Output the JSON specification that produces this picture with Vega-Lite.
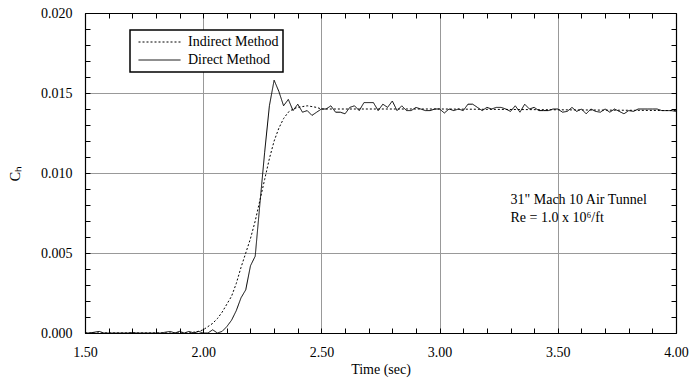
{
  "$schema": "https://vega.github.io/schema/vega-lite/v6.json",
  "width": 591,
  "height": 320,
  "autosize": "none",
  "padding": {"left": 85, "top": 13, "right": 15, "bottom": 48},
  "background": "white",
  "config": {
    "font": "Liberation Serif",
    "view": {"stroke": null},
    "legend": {"strokeWidth": 1.5},
    "axis": {
      "labelFont": "Liberation Serif",
      "labelFontSize": 14,
      "labelColor": "black",
      "titleFont": "Liberation Serif",
      "titleFontSize": 14,
      "titleFontWeight": "normal",
      "titleColor": "black",
      "domainColor": "black",
      "domainWidth": 1.2,
      "tickColor": "black",
      "tickWidth": 1,
      "gridColor": "#999999",
      "gridWidth": 1,
      "labelOverlap": false,
      "labelFlush": false
    }
  },
  "datasets": {
    "curves": [
      {"t": 1.50, "C": 0.0, "method": "Indirect Method"},
      {"t": 1.90, "C": 0.0, "method": "Indirect Method"},
      {"t": 1.94, "C": 0.0, "method": "Indirect Method"},
      {"t": 1.96, "C": 0.00005, "method": "Indirect Method"},
      {"t": 1.98, "C": 0.0001, "method": "Indirect Method"},
      {"t": 2.00, "C": 0.0002, "method": "Indirect Method"},
      {"t": 2.02, "C": 0.0004, "method": "Indirect Method"},
      {"t": 2.04, "C": 0.0006, "method": "Indirect Method"},
      {"t": 2.06, "C": 0.0009, "method": "Indirect Method"},
      {"t": 2.08, "C": 0.0013, "method": "Indirect Method"},
      {"t": 2.10, "C": 0.0018, "method": "Indirect Method"},
      {"t": 2.12, "C": 0.0023, "method": "Indirect Method"},
      {"t": 2.14, "C": 0.0031, "method": "Indirect Method"},
      {"t": 2.16, "C": 0.0041, "method": "Indirect Method"},
      {"t": 2.18, "C": 0.0050, "method": "Indirect Method"},
      {"t": 2.20, "C": 0.0059, "method": "Indirect Method"},
      {"t": 2.22, "C": 0.0070, "method": "Indirect Method"},
      {"t": 2.24, "C": 0.0083, "method": "Indirect Method"},
      {"t": 2.26, "C": 0.0096, "method": "Indirect Method"},
      {"t": 2.28, "C": 0.0109, "method": "Indirect Method"},
      {"t": 2.30, "C": 0.0120, "method": "Indirect Method"},
      {"t": 2.32, "C": 0.0128, "method": "Indirect Method"},
      {"t": 2.34, "C": 0.0134, "method": "Indirect Method"},
      {"t": 2.36, "C": 0.0138, "method": "Indirect Method"},
      {"t": 2.38, "C": 0.0140, "method": "Indirect Method"},
      {"t": 2.40, "C": 0.0141, "method": "Indirect Method"},
      {"t": 2.42, "C": 0.01415, "method": "Indirect Method"},
      {"t": 2.44, "C": 0.0142, "method": "Indirect Method"},
      {"t": 2.46, "C": 0.01415, "method": "Indirect Method"},
      {"t": 2.48, "C": 0.0141, "method": "Indirect Method"},
      {"t": 2.50, "C": 0.0140, "method": "Indirect Method"},
      {"t": 2.70, "C": 0.0140, "method": "Indirect Method"},
      {"t": 3.00, "C": 0.0140, "method": "Indirect Method"},
      {"t": 3.50, "C": 0.01395, "method": "Indirect Method"},
      {"t": 4.00, "C": 0.0139, "method": "Indirect Method"},

      {"t": 1.50, "C": 0.0, "method": "Direct Method"},
      {"t": 1.52, "C": 0.0, "method": "Direct Method"},
      {"t": 1.54, "C": 0.00005, "method": "Direct Method"},
      {"t": 1.56, "C": 0.0001, "method": "Direct Method"},
      {"t": 1.58, "C": 0.0, "method": "Direct Method"},
      {"t": 1.60, "C": 0.0, "method": "Direct Method"},
      {"t": 1.62, "C": 0.0, "method": "Direct Method"},
      {"t": 1.64, "C": 0.0, "method": "Direct Method"},
      {"t": 1.66, "C": 0.0, "method": "Direct Method"},
      {"t": 1.68, "C": 0.0, "method": "Direct Method"},
      {"t": 1.70, "C": 0.00003, "method": "Direct Method"},
      {"t": 1.72, "C": 0.0, "method": "Direct Method"},
      {"t": 1.74, "C": 0.0, "method": "Direct Method"},
      {"t": 1.76, "C": 0.0, "method": "Direct Method"},
      {"t": 1.78, "C": 0.0, "method": "Direct Method"},
      {"t": 1.80, "C": 0.0, "method": "Direct Method"},
      {"t": 1.82, "C": 0.0, "method": "Direct Method"},
      {"t": 1.84, "C": 0.00005, "method": "Direct Method"},
      {"t": 1.86, "C": 0.0001, "method": "Direct Method"},
      {"t": 1.88, "C": 0.0, "method": "Direct Method"},
      {"t": 1.90, "C": 0.0001, "method": "Direct Method"},
      {"t": 1.92, "C": 0.0, "method": "Direct Method"},
      {"t": 1.94, "C": 0.0001, "method": "Direct Method"},
      {"t": 1.96, "C": 0.0, "method": "Direct Method"},
      {"t": 1.98, "C": 0.0001, "method": "Direct Method"},
      {"t": 2.00, "C": 0.0, "method": "Direct Method"},
      {"t": 2.02, "C": 0.0, "method": "Direct Method"},
      {"t": 2.04, "C": 0.0002, "method": "Direct Method"},
      {"t": 2.06, "C": 0.0, "method": "Direct Method"},
      {"t": 2.08, "C": 0.0001, "method": "Direct Method"},
      {"t": 2.10, "C": 0.0004, "method": "Direct Method"},
      {"t": 2.12, "C": 0.0008, "method": "Direct Method"},
      {"t": 2.14, "C": 0.0014, "method": "Direct Method"},
      {"t": 2.16, "C": 0.0022, "method": "Direct Method"},
      {"t": 2.18, "C": 0.0027, "method": "Direct Method"},
      {"t": 2.20, "C": 0.0042, "method": "Direct Method"},
      {"t": 2.22, "C": 0.0048, "method": "Direct Method"},
      {"t": 2.24, "C": 0.0081, "method": "Direct Method"},
      {"t": 2.26, "C": 0.0113, "method": "Direct Method"},
      {"t": 2.28, "C": 0.0142, "method": "Direct Method"},
      {"t": 2.30, "C": 0.0158, "method": "Direct Method"},
      {"t": 2.32, "C": 0.0151, "method": "Direct Method"},
      {"t": 2.34, "C": 0.0142, "method": "Direct Method"},
      {"t": 2.36, "C": 0.0146, "method": "Direct Method"},
      {"t": 2.38, "C": 0.0139, "method": "Direct Method"},
      {"t": 2.40, "C": 0.0143, "method": "Direct Method"},
      {"t": 2.42, "C": 0.0138, "method": "Direct Method"},
      {"t": 2.44, "C": 0.0139, "method": "Direct Method"},
      {"t": 2.46, "C": 0.0136, "method": "Direct Method"},
      {"t": 2.48, "C": 0.0138, "method": "Direct Method"},
      {"t": 2.50, "C": 0.0140, "method": "Direct Method"},
      {"t": 2.52, "C": 0.0140, "method": "Direct Method"},
      {"t": 2.54, "C": 0.0142, "method": "Direct Method"},
      {"t": 2.56, "C": 0.0138, "method": "Direct Method"},
      {"t": 2.58, "C": 0.0138, "method": "Direct Method"},
      {"t": 2.60, "C": 0.0137, "method": "Direct Method"},
      {"t": 2.62, "C": 0.0141, "method": "Direct Method"},
      {"t": 2.64, "C": 0.0142, "method": "Direct Method"},
      {"t": 2.66, "C": 0.0139, "method": "Direct Method"},
      {"t": 2.68, "C": 0.0144, "method": "Direct Method"},
      {"t": 2.70, "C": 0.0144, "method": "Direct Method"},
      {"t": 2.72, "C": 0.0144, "method": "Direct Method"},
      {"t": 2.74, "C": 0.0139, "method": "Direct Method"},
      {"t": 2.76, "C": 0.0143, "method": "Direct Method"},
      {"t": 2.78, "C": 0.0141, "method": "Direct Method"},
      {"t": 2.80, "C": 0.0145, "method": "Direct Method"},
      {"t": 2.82, "C": 0.0139, "method": "Direct Method"},
      {"t": 2.84, "C": 0.0142, "method": "Direct Method"},
      {"t": 2.86, "C": 0.0139, "method": "Direct Method"},
      {"t": 2.88, "C": 0.0139, "method": "Direct Method"},
      {"t": 2.90, "C": 0.0141, "method": "Direct Method"},
      {"t": 2.92, "C": 0.0140, "method": "Direct Method"},
      {"t": 2.94, "C": 0.0139, "method": "Direct Method"},
      {"t": 2.96, "C": 0.0139, "method": "Direct Method"},
      {"t": 2.98, "C": 0.0140, "method": "Direct Method"},
      {"t": 3.00, "C": 0.0140, "method": "Direct Method"},
      {"t": 3.02, "C": 0.01375, "method": "Direct Method"},
      {"t": 3.04, "C": 0.0140, "method": "Direct Method"},
      {"t": 3.06, "C": 0.0139, "method": "Direct Method"},
      {"t": 3.08, "C": 0.0140, "method": "Direct Method"},
      {"t": 3.10, "C": 0.0139, "method": "Direct Method"},
      {"t": 3.12, "C": 0.0143, "method": "Direct Method"},
      {"t": 3.14, "C": 0.0143, "method": "Direct Method"},
      {"t": 3.16, "C": 0.0141, "method": "Direct Method"},
      {"t": 3.18, "C": 0.0139, "method": "Direct Method"},
      {"t": 3.20, "C": 0.0141, "method": "Direct Method"},
      {"t": 3.22, "C": 0.0140, "method": "Direct Method"},
      {"t": 3.24, "C": 0.0141, "method": "Direct Method"},
      {"t": 3.26, "C": 0.0141, "method": "Direct Method"},
      {"t": 3.28, "C": 0.0140, "method": "Direct Method"},
      {"t": 3.30, "C": 0.01385, "method": "Direct Method"},
      {"t": 3.32, "C": 0.0142, "method": "Direct Method"},
      {"t": 3.34, "C": 0.0138, "method": "Direct Method"},
      {"t": 3.36, "C": 0.0143, "method": "Direct Method"},
      {"t": 3.38, "C": 0.0140, "method": "Direct Method"},
      {"t": 3.40, "C": 0.0141, "method": "Direct Method"},
      {"t": 3.42, "C": 0.0139, "method": "Direct Method"},
      {"t": 3.44, "C": 0.0139, "method": "Direct Method"},
      {"t": 3.46, "C": 0.0139, "method": "Direct Method"},
      {"t": 3.48, "C": 0.0140, "method": "Direct Method"},
      {"t": 3.50, "C": 0.0140, "method": "Direct Method"},
      {"t": 3.52, "C": 0.0138, "method": "Direct Method"},
      {"t": 3.54, "C": 0.01385, "method": "Direct Method"},
      {"t": 3.56, "C": 0.0141, "method": "Direct Method"},
      {"t": 3.58, "C": 0.01385, "method": "Direct Method"},
      {"t": 3.60, "C": 0.0140, "method": "Direct Method"},
      {"t": 3.62, "C": 0.0137, "method": "Direct Method"},
      {"t": 3.64, "C": 0.0140, "method": "Direct Method"},
      {"t": 3.66, "C": 0.01385, "method": "Direct Method"},
      {"t": 3.68, "C": 0.0138, "method": "Direct Method"},
      {"t": 3.70, "C": 0.0140, "method": "Direct Method"},
      {"t": 3.72, "C": 0.0138, "method": "Direct Method"},
      {"t": 3.74, "C": 0.0140, "method": "Direct Method"},
      {"t": 3.76, "C": 0.01385, "method": "Direct Method"},
      {"t": 3.78, "C": 0.0137, "method": "Direct Method"},
      {"t": 3.80, "C": 0.0139, "method": "Direct Method"},
      {"t": 3.82, "C": 0.01385, "method": "Direct Method"},
      {"t": 3.84, "C": 0.0140, "method": "Direct Method"},
      {"t": 3.86, "C": 0.0140, "method": "Direct Method"},
      {"t": 3.88, "C": 0.0140, "method": "Direct Method"},
      {"t": 3.90, "C": 0.0140, "method": "Direct Method"},
      {"t": 3.92, "C": 0.0140, "method": "Direct Method"},
      {"t": 3.94, "C": 0.0139, "method": "Direct Method"},
      {"t": 3.96, "C": 0.0139, "method": "Direct Method"},
      {"t": 3.98, "C": 0.0139, "method": "Direct Method"},
      {"t": 4.00, "C": 0.01385, "method": "Direct Method"}
    ],
    "notes": [
      {"t": 3.30, "C": 0.00833, "label": "31\" Mach 10 Air Tunnel"},
      {"t": 3.30, "C": 0.00719, "label": "Re = 1.0 x 10⁶/ft"}
    ]
  },
  "layer": [
    {
      "data": {"name": "curves"},
      "mark": {"type": "line", "color": "black", "strokeWidth": 1},
      "encoding": {
        "x": {
          "field": "t", "type": "quantitative",
          "scale": {"domain": [1.5, 4.0], "nice": false, "zero": false},
          "axis": {
            "orient": "bottom",
            "title": "Time (sec)",
            "values": [1.5,1.6,1.7,1.8,1.9,2.0,2.1,2.2,2.3,2.4,2.5,2.6,2.7,2.8,2.9,3.0,3.1,3.2,3.3,3.4,3.5,3.6,3.7,3.8,3.9,4.0],
            "labelExpr": "abs(datum.value*2 - round(datum.value*2)) < 1e-6 ? format(datum.value, '.2f') : ''",
            "grid": true,
            "gridOpacity": {"condition": {"test": "abs(datum.value*2 - round(datum.value*2)) < 1e-6", "value": 1}, "value": 0},
            "tickSize": -5,
            "labelPadding": 17,
            "titlePadding": 3
          }
        },
        "y": {
          "field": "C", "type": "quantitative",
          "scale": {"domain": [0, 0.02], "nice": false},
          "axis": {
            "orient": "left",
            "title": "Cₕ",
            "values": [0,0.001,0.002,0.003,0.004,0.005,0.006,0.007,0.008,0.009,0.01,0.011,0.012,0.013,0.014,0.015,0.016,0.017,0.018,0.019,0.02],
            "labelExpr": "abs(datum.value*200 - round(datum.value*200)) < 1e-6 ? format(datum.value, '.3f') : ''",
            "grid": true,
            "gridOpacity": {"condition": {"test": "abs(datum.value*200 - round(datum.value*200)) < 1e-6", "value": 1}, "value": 0},
            "tickSize": -5,
            "labelPadding": 18,
            "titlePadding": 18
          }
        },
        "strokeDash": {
          "field": "method", "type": "nominal",
          "scale": {"domain": ["Indirect Method", "Direct Method"], "range": [[2, 2], [1, 0]]},
          "legend": {
            "orient": "none",
            "legendX": 45,
            "legendY": 17,
            "title": null,
            "fillColor": "white",
            "strokeColor": "black",
            "padding": 4,
            "labelFont": "Liberation Serif",
            "labelFontSize": 14,
            "labelColor": "black",
            "labelOffset": 7,
            "symbolOffset": 4,
            "symbolType": "stroke",
            "symbolSize": 1764,
            "symbolStrokeColor": "black",
            "symbolStrokeWidth": 1,
            "clipHeight": 16,
            "rowPadding": 2
          }
        }
      }
    },
    {
      "data": {"name": "notes"},
      "mark": {"type": "text", "align": "left", "baseline": "middle", "font": "Liberation Serif", "fontSize": 14, "color": "black"},
      "encoding": {
        "x": {
          "field": "t", "type": "quantitative",
          "axis": {
            "orient": "top",
            "title": null,
            "labels": false,
            "grid": false,
            "values": [1.5,1.6,1.7,1.8,1.9,2.0,2.1,2.2,2.3,2.4,2.5,2.6,2.7,2.8,2.9,3.0,3.1,3.2,3.3,3.4,3.5,3.6,3.7,3.8,3.9,4.0],
            "tickSize": -5
          }
        },
        "y": {
          "field": "C", "type": "quantitative",
          "axis": {
            "orient": "right",
            "title": null,
            "labels": false,
            "grid": false,
            "values": [0,0.001,0.002,0.003,0.004,0.005,0.006,0.007,0.008,0.009,0.01,0.011,0.012,0.013,0.014,0.015,0.016,0.017,0.018,0.019,0.02],
            "tickSize": -5
          }
        },
        "text": {"field": "label", "type": "nominal"}
      }
    }
  ],
  "resolve": {"axis": {"x": "independent", "y": "independent"}}
}
